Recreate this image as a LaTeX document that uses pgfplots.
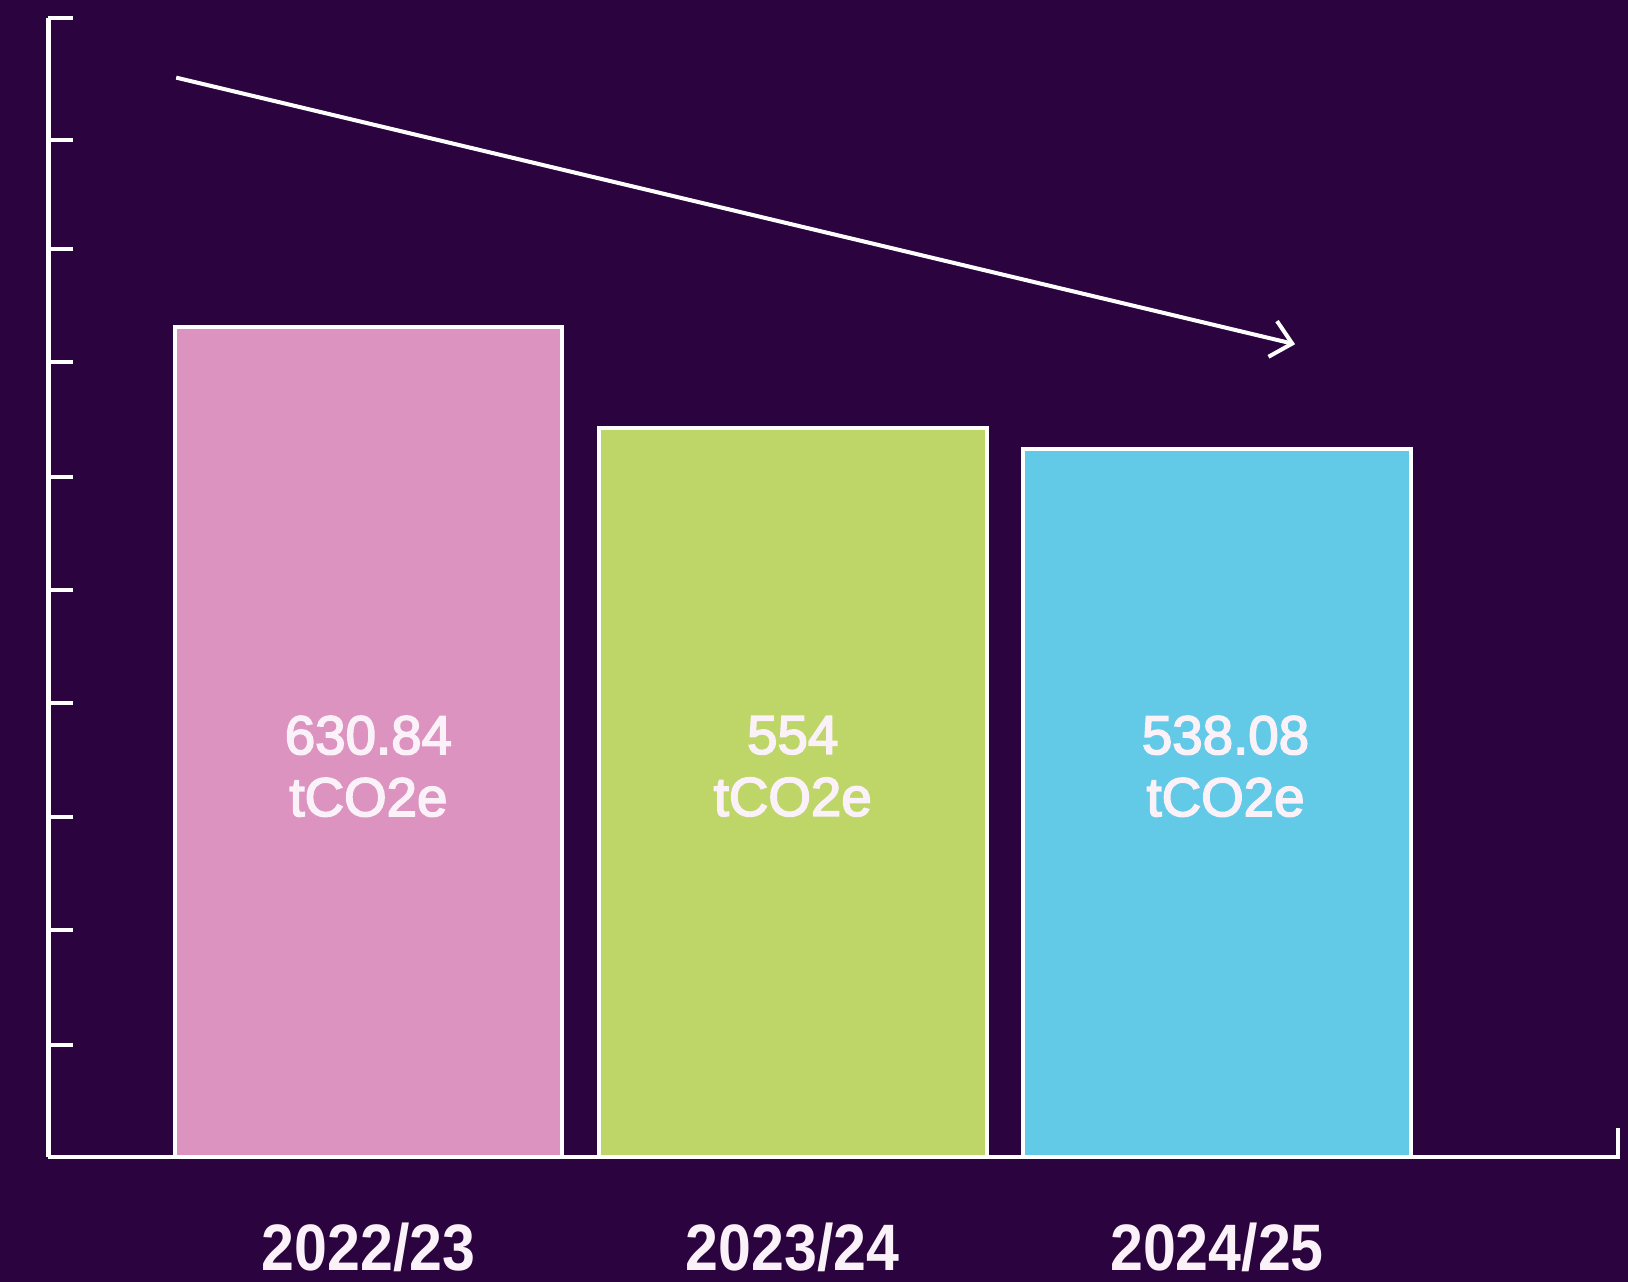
\documentclass[border=0pt]{standalone}
\usepackage{fontspec}
\setmainfont{Liberation Sans}
\newfontfamily\labfont[FakeBold=3]{Liberation Sans}
\usepackage{graphicx}
\usepackage{pgfplots}
\pgfplotsset{compat=1.18}
\usetikzlibrary{arrows.meta}
\definecolor{bg}{RGB}{43,3,63}
\definecolor{cpink}{RGB}{220,147,192}
\definecolor{cgreen}{RGB}{190,214,104}
\definecolor{cblue}{RGB}{98,201,230}
\definecolor{txt}{RGB}{250,242,248}
\begin{document}
\begin{tikzpicture}
\fill[bg] (0,0) rectangle (488.4pt,384.6pt);
\begin{axis}[
 at={(14.55pt,37.5pt)}, anchor=south west,
 width=470.85pt, height=341.8pt, scale only axis,
 xmin=-0.754, xmax=2.945, ymin=0, ymax=866.2,
 axis lines=left, axis line style={-, white, line width=1.35pt},
 xtick={0,1,2},
 xticklabels={\scalebox{0.9}[1]{2022/23},\scalebox{0.9}[1]{2023/24},\scalebox{0.9}[1]{2024/25}},
 x tick style={draw=none},
 xticklabel style={anchor=base, inner sep=0pt, yshift=-26.6pt, font=\bfseries\fontsize{19.7}{20}\selectfont, text=txt},
 ytick={85.5,172.5,258.4,345.0,431.2,517.2,604.2,690.1,773.5,866.2},
 yticklabels={},
 y tick style={white, line width=1.2pt},
 major tick length=7.35pt, tick align=inside,
 ybar, bar width=0.914, bar shift=0pt,
 clip=false,
]
\addplot[fill=cpink, draw=white, line width=1.2pt] coordinates {(0,630.84)};
\addplot[fill=cgreen, draw=white, line width=1.2pt] coordinates {(1,554)};
\addplot[fill=cblue, draw=white, line width=1.2pt] coordinates {(2,538.08)};
\draw[white, line width=1.35pt, line cap=rect] (axis cs:2.945,0) -- (axis cs:2.945,20.5);
\draw[white, line width=1.2pt, -{Straight Barb[length=6pt,width=11pt]}] (axis cs:-0.453,820.6) -- (axis cs:2.184,617.9);
\node[align=center, text=txt, font=\labfont\fontsize{16.4}{18.6}\selectfont] at (axis cs:0,297) {630.84\\tCO2e};
\node[align=center, text=txt, font=\labfont\fontsize{16.4}{18.6}\selectfont] at (axis cs:1,297) {554\\tCO2e};
\node[align=center, text=txt, font=\labfont\fontsize{16.4}{18.6}\selectfont] at (axis cs:2.02,297) {538.08\\tCO2e};
\end{axis}
\pgfresetboundingbox
\useasboundingbox (0,0) rectangle (488.4pt,384.6pt);
\end{tikzpicture}
\end{document}
